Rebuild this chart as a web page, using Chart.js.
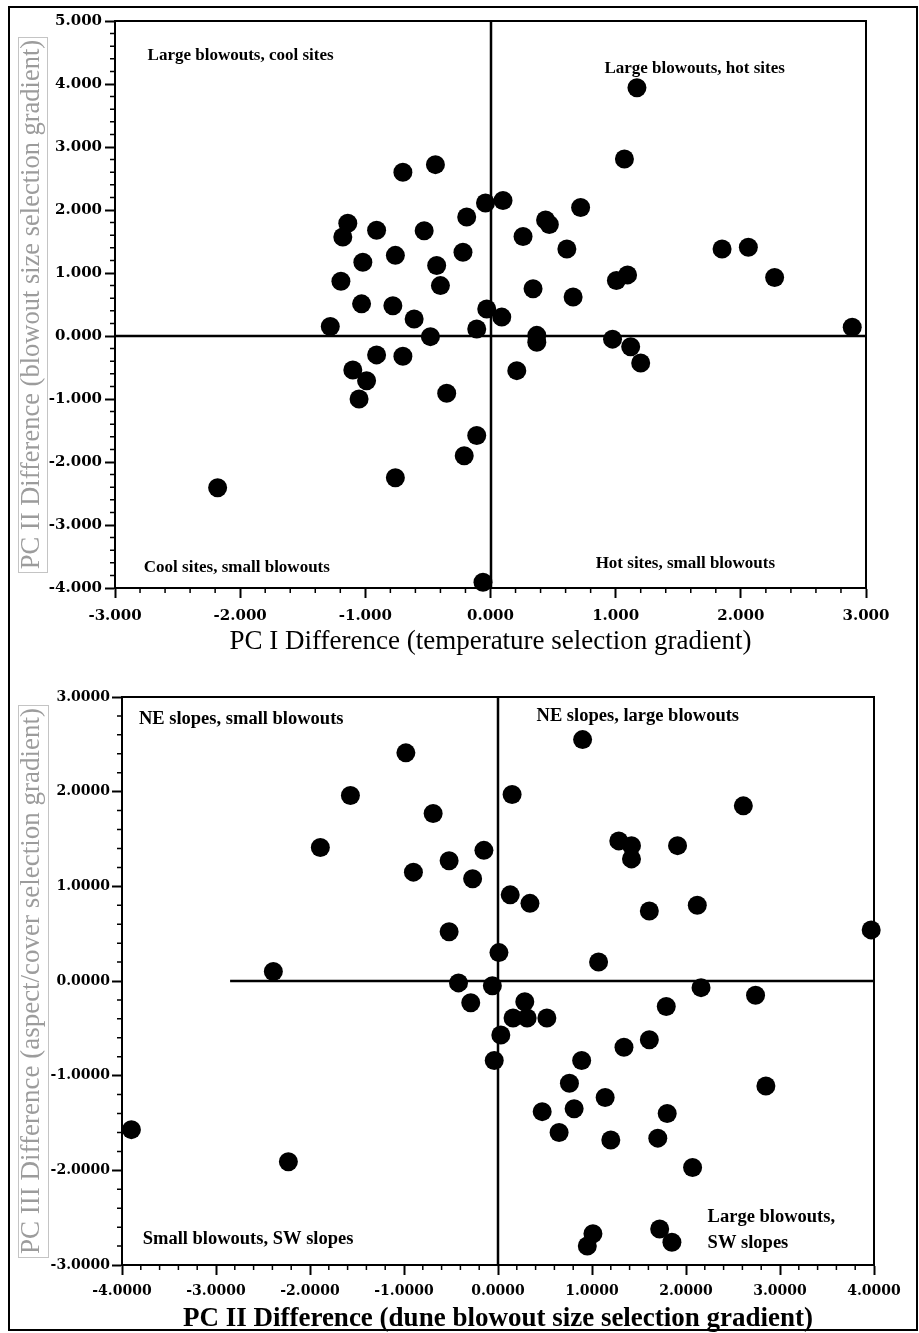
<!DOCTYPE html>
<html>
<head>
<meta charset="utf-8">
<script src="https://cdn.jsdelivr.net/npm/chart.js@4.4.1/dist/chart.umd.min.js"></script>
<style>
  html, body { margin: 0; padding: 0; background: #fff; }
  #frame { position: absolute; left: 8px; top: 6px; width: 910px; height: 1325px; border: 2px solid #000; box-sizing: border-box; }
  canvas { position: absolute; left: 0; }
  #topChart { top: 0; }
  #bottomChart { top: 660px; }
</style>
</head>
<body>
<div id="frame"></div>
<canvas id="topChart" width="919" height="660"></canvas>
<canvas id="bottomChart" width="919" height="673"></canvas>
<script>
// Top panel: PC I difference (x) vs PC II difference (y)
const pc1Diff = [
  -0.70, -0.44, -1.14, -1.18, -0.91, -0.53, -1.02, -0.76, -0.43, -0.40,
  -1.195, -1.03, -0.78, -0.61, -1.28, -0.48, -0.22, -0.19, -0.91, -0.70,
  -1.10, -0.99, -1.05, -0.35, -2.18, -0.76, -0.21, 1.17, 1.07, -0.04,
  0.10, 0.72, 0.44, 0.47, 0.26, 0.61, 1.85, 2.06, 2.27, 1.095,
  1.006, 0.34, 0.66, -0.03, 0.09, -0.11, 2.89, 0.37, 0.37, 0.975,
  1.12, 1.20, 0.21, -0.11, -0.06
];
const pc2DiffTop = [
  2.60, 2.72, 1.79, 1.57, 1.68, 1.67, 1.17, 1.28, 1.12, 0.80,
  0.87, 0.51, 0.48, 0.27, 0.15, -0.01, 1.33, 1.89, -0.30, -0.32,
  -0.54, -0.71, -1.00, -0.91, -2.41, -2.25, -1.90, 3.94, 2.81, 2.11,
  2.15, 2.04, 1.84, 1.77, 1.58, 1.38, 1.38, 1.41, 0.93, 0.97,
  0.88, 0.75, 0.62, 0.43, 0.30, 0.11, 0.14, 0.01, -0.10, -0.05,
  -0.17, -0.43, -0.55, -1.58, -3.91
];

// Bottom panel: PC II difference (x) vs PC III difference (y)
const pc2Diff = [
  -0.98, -1.57, -0.69, -1.89, -0.52, -0.90, -0.52, -2.39, -0.42, 0.90,
  0.15, 2.61, -0.15, -0.27, 1.285, 1.42, 1.42, 1.91, 0.13, 0.34,
  1.61, 2.12, 3.97, 0.01, 1.07, -0.06, 2.16, 2.74, -0.29, 0.285,
  0.16, 0.31, 0.52, 0.03, -0.04, 0.89, 1.79, 1.61, 1.34, 0.76,
  1.14, 2.85, 0.47, 0.81, 1.80, 0.65, 1.20, 1.70, 2.07, 1.01,
  0.95, 1.72, 1.85, -3.90, -2.23
];
const pc3Diff = [
  2.41, 1.96, 1.77, 1.41, 1.27, 1.15, 0.52, 0.10, -0.02, 2.55,
  1.97, 1.85, 1.38, 1.08, 1.48, 1.43, 1.29, 1.43, 0.91, 0.82,
  0.74, 0.80, 0.54, 0.30, 0.20, -0.05, -0.07, -0.15, -0.23, -0.22,
  -0.39, -0.39, -0.39, -0.57, -0.84, -0.84, -0.27, -0.62, -0.70, -1.08,
  -1.23, -1.11, -1.38, -1.35, -1.40, -1.60, -1.68, -1.66, -1.97, -2.67,
  -2.80, -2.62, -2.76, -1.57, -1.91
];

// axis ranges (tick labels are these values with fixed decimals)
const topXRange = [-3, 3];
const topYRange = [-4, 5];
const bottomXRange = [-4, 4];
const bottomYRange = [-3, 3];

const topQuadrants = ['Large blowouts, cool sites', 'Large blowouts, hot sites',
  'Cool sites, small blowouts', 'Hot sites, small blowouts'];
const bottomQuadrants = ['NE slopes, small blowouts', 'NE slopes, large blowouts',
  'Small blowouts, SW slopes', ['Large blowouts,', 'SW slopes']];

const SERIF = '"Liberation Serif", "Times New Roman", serif';
const TICKFONT = '"DejaVu Serif", serif';

// zero lines, frame, minor ticks, quadrant notes and the grey box round the y title
const decorPlugin = {
  id: 'decor',
  beforeDatasetsDraw(chart, args, opts) {
    const { ctx, chartArea: a, scales: { x, y } } = chart;
    ctx.save();
    ctx.strokeStyle = '#000';
    ctx.lineWidth = 2.5;
    ctx.beginPath();
    const y0 = Math.round(y.getPixelForValue(0));
    ctx.moveTo(x.getPixelForValue(opts.zeroFrom), y0);
    ctx.lineTo(a.right, y0);
    const x0 = Math.round(x.getPixelForValue(0));
    ctx.moveTo(x0, a.top);
    ctx.lineTo(x0, a.bottom);
    ctx.stroke();

    ctx.lineWidth = 2;
    ctx.strokeRect(a.left, a.top, a.right - a.left, a.bottom - a.top);

    ctx.lineWidth = 1.5;
    ctx.beginPath();
    const nx = Math.round((x.max - x.min) * 5);
    for (let i = 1; i < nx; i++) {
      if (i % 5 === 0) continue;
      const px = x.getPixelForValue(x.min + i / 5);
      ctx.moveTo(px, a.bottom);
      ctx.lineTo(px, a.bottom + 5);
    }
    const ny = Math.round((y.max - y.min) * 5);
    for (let i = 1; i < ny; i++) {
      if (i % 5 === 0) continue;
      const py = y.getPixelForValue(y.min + i / 5);
      ctx.moveTo(a.left, py);
      ctx.lineTo(a.left - 5, py);
    }
    ctx.stroke();
    ctx.restore();
  },
  afterDraw(chart, args, opts) {
    const { ctx, scales: { x, y } } = chart;
    ctx.save();
    ctx.fillStyle = '#000';
    ctx.font = opts.noteFont;
    ctx.textAlign = 'left';
    ctx.textBaseline = 'middle';
    opts.notes.forEach((n, i) => {
      const lines = [].concat(opts.texts[i]);
      const px = x.getPixelForValue(n[0]);
      lines.forEach((t, j) => {
        ctx.fillText(t, px, y.getPixelForValue(n[1]) + j * opts.lineGap);
      });
    });

    // box round the rotated y title
    const t = y.options.title;
    ctx.font = t.font.size + 'px ' + t.font.family;
    const w = ctx.measureText(t.text).width;
    const cy = (y.top + y.bottom) / 2;
    ctx.strokeStyle = '#c4c4c4';
    ctx.lineWidth = 1;
    ctx.strokeRect(opts.boxX[0] + 0.5, Math.round(cy - w / 2 - 3) + 0.5,
      opts.boxX[1] - opts.boxX[0], Math.round(w + 6));
    ctx.restore();
  }
};

function makeChart(id, xs, ys, cfg) {
  const points = xs.map((v, i) => ({ x: v, y: ys[i] }));
  const axisCommon = (range, digits, fitFn, title) => ({
    type: 'linear',
    min: range[0],
    max: range[1],
    afterFit: fitFn,
    ticks: {
      stepSize: 1,
      color: '#000',
      font: { family: TICKFONT, weight: 'bold', size: cfg.tickSize },
      callback: v => v.toFixed(digits)
    },
    grid: {
      drawOnChartArea: false,
      drawTicks: true,
      tickLength: 10,
      tickWidth: 2,
      color: '#000',
      tickColor: '#000'
    },
    border: { display: true, color: '#000', width: 2 },
    title: title
  });

  const xAxis = axisCommon(cfg.xRange, cfg.digits, s => { s.height = cfg.xHeight; }, {
    display: true,
    text: cfg.xTitle,
    color: '#000',
    font: { family: SERIF, size: cfg.xTitleSize, weight: cfg.xTitleWeight, lineHeight: 1 },
    padding: { top: 0, bottom: cfg.xTitlePad }
  });
  xAxis.ticks.padding = cfg.xTickPad;
  xAxis.ticks.maxRotation = 0;

  const yAxis = axisCommon(cfg.yRange, cfg.digits, s => { s.width = cfg.yWidth; }, {
    display: true,
    text: cfg.yTitle,
    color: '#9c9c9c',
    font: { family: SERIF, size: cfg.yTitleSize, weight: 'normal', lineHeight: 1 },
    padding: { top: 32 - cfg.yTitleSize / 2, bottom: 0 }
  });
  yAxis.ticks.padding = cfg.yTickPad;

  return new Chart(document.getElementById(id), {
    type: 'scatter',
    data: {
      datasets: [{
        data: points,
        backgroundColor: '#000',
        borderWidth: 0,
        pointRadius: 9.5,
        pointHoverRadius: 9.5,
        clip: false
      }]
    },
    options: {
      responsive: false,
      animation: false,
      events: [],
      layout: { padding: cfg.padding },
      scales: { x: xAxis, y: yAxis },
      plugins: {
        legend: { display: false },
        tooltip: { enabled: false },
        decor: {
          zeroFrom: cfg.zeroFrom,
          notes: cfg.notes,
          texts: cfg.texts,
          noteFont: cfg.noteFont,
          lineGap: cfg.lineGap,
          boxX: cfg.boxX
        }
      }
    },
    plugins: [decorPlugin]
  });
}

makeChart('topChart', pc1Diff, pc2DiffTop, {
  xRange: topXRange,
  yRange: topYRange,
  digits: 3,
  tickSize: 15,
  xTitle: 'PC I Difference (temperature selection gradient)',
  xTitleWeight: 'normal',
  xTitleSize: 27,
  xTitlePad: 5,
  yTitle: 'PC II Difference (blowout size selection gradient)',
  yTitleSize: 26.5,
  xHeight: 72,
  yWidth: 115,
  xTickPad: 9,
  yTickPad: 3,
  padding: { top: 21, right: 53, left: 0, bottom: 0 },
  zeroFrom: -3,
  texts: topQuadrants,
  notes: [[-2.74, 4.45], [0.91, 4.25], [-2.77, -3.68], [0.84, -3.62]],
  noteFont: 'bold 17px ' + SERIF,
  lineGap: 0,
  boxX: [18, 47]
});

makeChart('bottomChart', pc2Diff, pc3Diff, {
  xRange: bottomXRange,
  yRange: bottomYRange,
  digits: 4,
  tickSize: 14,
  xTitle: 'PC II Difference (dune blowout size selection gradient)',
  xTitleWeight: 'bold',
  xTitleSize: 27,
  xTitlePad: 0,
  yTitle: 'PC III Difference (aspect/cover selection gradient)',
  yTitleSize: 27,
  xHeight: 68,
  yWidth: 122,
  xTickPad: 8,
  yTickPad: 2,
  padding: { top: 37, right: 45, left: 0, bottom: 0 },
  zeroFrom: -2.85,
  texts: bottomQuadrants,
  notes: [[-3.82, 2.77], [0.41, 2.80], [-3.78, -2.73], [2.23, -2.49]],
  noteFont: 'bold 18.5px ' + SERIF,
  lineGap: 26,
  boxX: [18, 48]
});
</script>
</body>
</html>
